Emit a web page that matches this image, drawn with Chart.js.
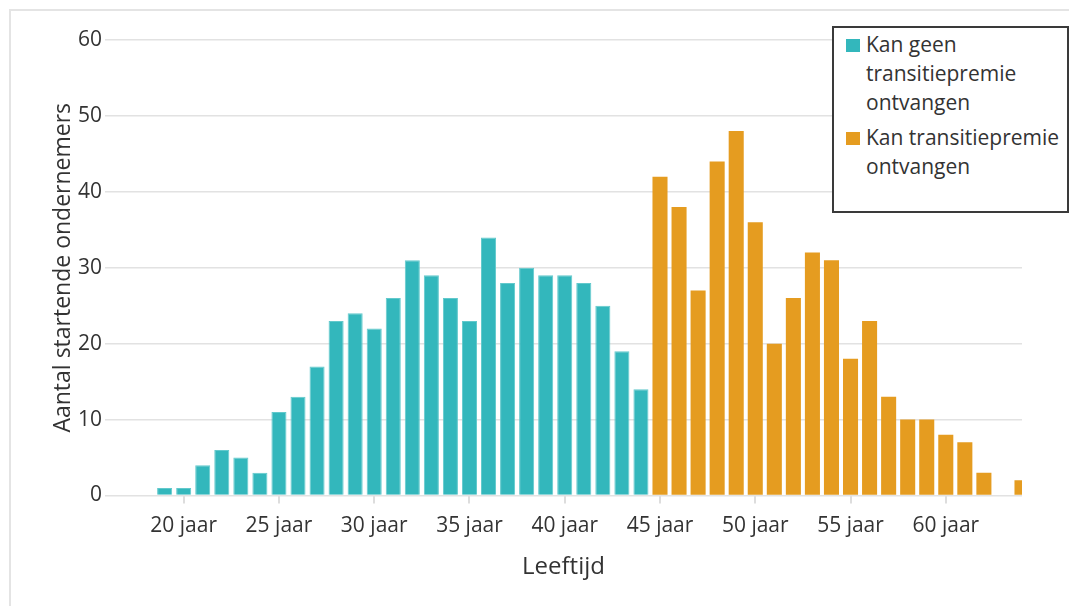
<!DOCTYPE html>
<html lang="nl">
<head>
  <meta charset="UTF-8" />
  <title>Startende ondernemers naar leeftijd</title>
  <script src="https://cdn.jsdelivr.net/npm/chart.js"></script>
  <style>
    body {
      margin: 0;
      background: #fff;
      font-family: "Open Sans", sans-serif;
      color: #333;
    }

    .wrap {
      position: relative;
      width: 1069px;
      height: 606px;
      overflow: hidden;
    }

    .frame {
      position: absolute;
      left: 9px;
      top: 9px;
      width: 1200px;
      height: 800px;
      border: 2px solid #e4e4e4;
    }

    canvas {
      position: absolute;
      left: 0;
      top: 0;
    }

    .legend {
      position: absolute;
      left: 832px;
      top: 26px;
      width: 233px;
      height: 183px;
      border: 2px solid #3a3a3a;
      background: #fff;
      font-size: 21px;
      line-height: 29px;
      color: #333;
    }

    .legend .item {
      position: relative;
      padding-left: 32px;
    }

    .legend .item + .item {
      margin-top: 6px;
    }

    .legend .swatch {
      position: absolute;
      left: 12px;
      top: 9px;
      width: 14px;
      height: 13px;
    }
  </style>
</head>
<body>

  <div class="wrap">
    <div class="frame"></div>
    <canvas id="chart" width="1069" height="606"></canvas>

    <div class="legend">
      <div class="item" style="margin-top:2px">
        <span class="swatch" style="background:#33b7bc"></span>Kan geen<br>transitiepremie<br>ontvangen
      </div>
      <div class="item">
        <span class="swatch" style="background:#e59c20"></span>Kan transitiepremie<br>ontvangen
      </div>
    </div>
  </div>

  <script>
    // leeftijden en aantallen
    const agesGeen = [19, 20, 21, 22, 23, 24, 25, 26, 27, 28, 29, 30, 31,
                      32, 33, 34, 35, 36, 37, 38, 39, 40, 41, 42, 43, 44];
    const countsGeen = [1, 1, 4, 6, 5, 3, 11, 13, 17, 23, 24, 22, 26,
                        31, 29, 26, 23, 34, 28, 30, 29, 29, 28, 25, 19, 14];

    const agesWel = [45, 46, 47, 48, 49, 50, 51, 52, 53, 54,
                     55, 56, 57, 58, 59, 60, 61, 62, 63, 64];
    const countsWel = [42, 38, 27, 44, 48, 36, 20, 26, 32, 31,
                       18, 23, 13, 10, 10, 8, 7, 3, 0, 2];

    const xTicks = [20, 25, 30, 35, 40, 45, 50, 55, 60];
    const yTicks = [0, 10, 20, 30, 40, 50, 60];

    const toPoints = (xs, ys) => xs.map((x, i) => ({ x: x, y: ys[i] }));

    const textColor = '#333333';
    const font = { family: '"Open Sans", sans-serif', size: 21 };

    new Chart(document.getElementById('chart'), {
      type: 'bar',
      data: {
        datasets: [
          {
            label: 'Kan geen transitiepremie ontvangen',
            data: toPoints(agesGeen, countsGeen),
            backgroundColor: '#33b7bc',
            borderColor: '#62c9cc',
            borderWidth: 1,
            grouped: false,
            categoryPercentage: 0.79,
            barPercentage: 1
          },
          {
            label: 'Kan transitiepremie ontvangen',
            data: toPoints(agesWel, countsWel),
            backgroundColor: '#e59c20',
            borderWidth: 0,
            grouped: false,
            categoryPercentage: 0.79,
            barPercentage: 1
          }
        ]
      },
      options: {
        responsive: false,
        animation: false,
        layout: {
          padding: { left: 45, right: 47, top: 40, bottom: 18.5 }
        },
        plugins: {
          legend: { display: false },
          tooltip: { enabled: false }
        },
        scales: {
          x: {
            type: 'linear',
            min: 15.87,
            max: 64,
            offset: false,
            grid: {
              offset: false,
              drawOnChartArea: false,
              drawTicks: true,
              tickLength: 8,
              color: '#dddddd',
              lineWidth: 2
            },
            border: { display: false },
            afterBuildTicks: (scale) => {
              scale.ticks = xTicks.map(v => ({ value: v }));
            },
            ticks: {
              font: font,
              color: textColor,
              padding: 10,
              maxRotation: 0,
              callback: (v) => v + ' jaar'
            },
            title: {
              display: true,
              text: 'Leeftijd',
              font: { family: font.family, size: 24 },
              color: textColor,
              padding: { top: 4.5, bottom: 5.5 }
            }
          },
          y: {
            min: 0,
            max: 60,
            afterBuildTicks: (scale) => {
              scale.ticks = yTicks.map(v => ({ value: v }));
            },
            afterFit: (scale) => {
              scale.width = 60;
            },
            grid: {
              drawTicks: false,
              color: '#e2e2e2',
              lineWidth: 1.5
            },
            border: { display: false },
            ticks: {
              font: font,
              color: textColor,
              padding: 3
            },
            title: {
              display: true,
              text: 'Aantal startende ondernemers',
              font: { family: font.family, size: 23 },
              color: textColor,
              padding: { top: 4.5, bottom: 4 }
            }
          }
        }
      }
    });
  </script>

</body>
</html>
